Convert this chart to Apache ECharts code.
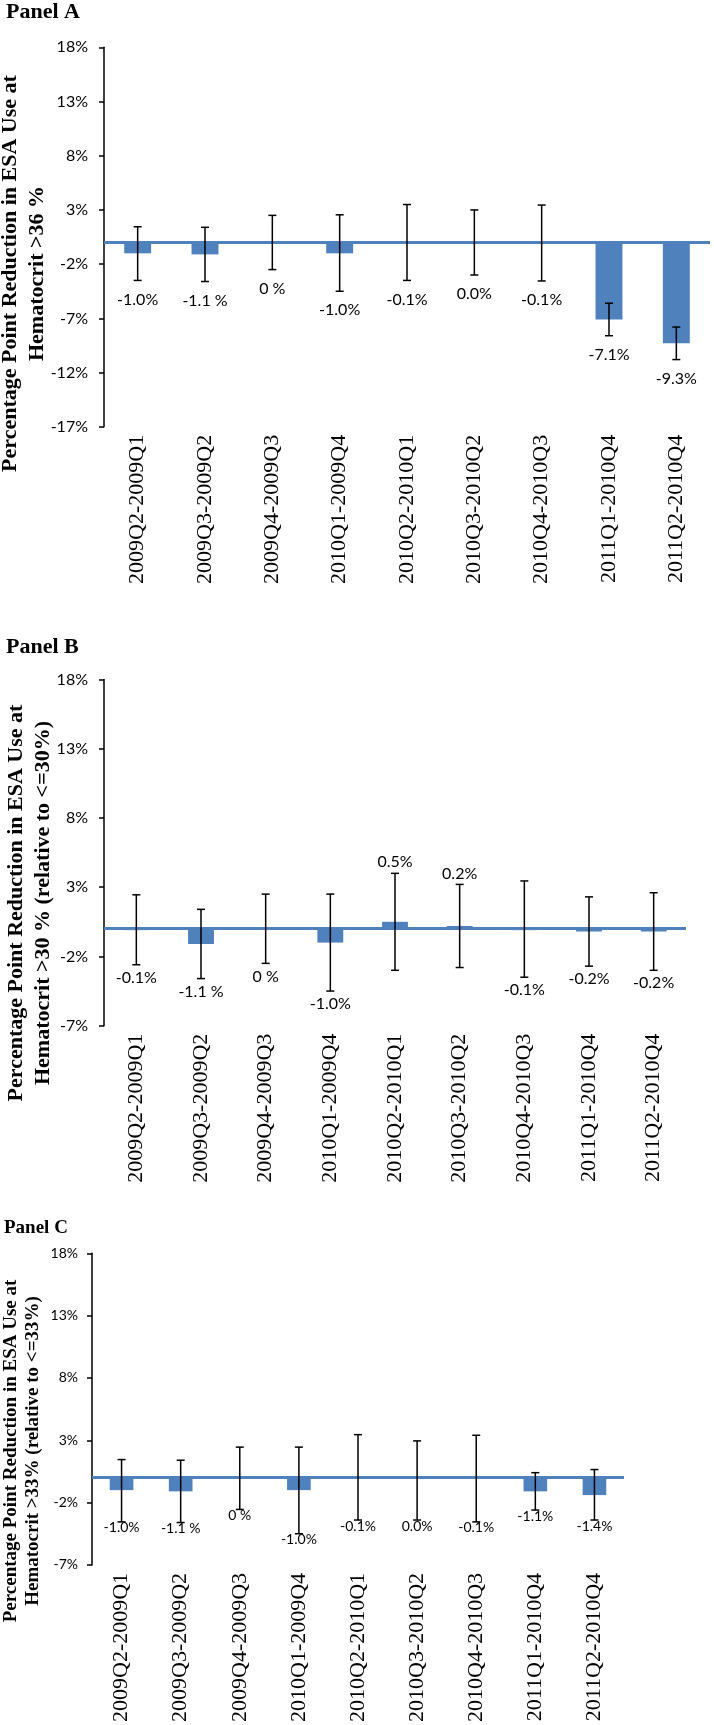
<!DOCTYPE html>
<html>
<head>
<meta charset="utf-8">
<script src="https://cdn.jsdelivr.net/npm/echarts@6/dist/echarts.min.js"></script>
<style>
html,body{margin:0;padding:0;background:#fff;}
#chart{width:714px;height:1725px;}
</style>
</head>
<body>
<div id="chart"></div>
<script>
// ---- data ----
const categories = ['2009Q2-2009Q1','2009Q3-2009Q2','2009Q4-2009Q3','2010Q1-2009Q4','2010Q2-2010Q1','2010Q3-2010Q2','2010Q4-2010Q3','2011Q1-2010Q4','2011Q2-2010Q4'];

const valuesA = [-1.0, -1.1, 0, -1.0, -0.1, 0.0, -0.1, -7.1, -9.3];
const lowA    = [-3.5, -3.6, -2.5, -4.5, -3.5, -3.0, -3.55, -8.6, -10.8];
const highA   = [1.45, 1.4, 2.5, 2.55, 3.5, 3.0, 3.45, -5.6, -7.8];
const labelsA = ['-1.0%','-1.1 %','0 %','-1.0%','-0.1%','0.0%','-0.1%','-7.1%','-9.3%'];

const valuesB = [-0.1, -1.1, 0, -1.0, 0.5, 0.2, -0.1, -0.2, -0.2];
const lowB    = [-2.6, -3.6, -2.5, -4.5, -3.0, -2.8, -3.5, -2.7, -3.0];
const highB   = [2.45, 1.4, 2.5, 2.5, 4.0, 3.2, 3.45, 2.3, 2.6];
const labelsB = ['-0.1%','-1.1 %','0 %','-1.0%','0.5%','0.2%','-0.1%','-0.2%','-0.2%'];

const valuesC = [-1.0, -1.1, 0, -1.0, -0.1, 0.0, -0.1, -1.1, -1.4];
const lowC    = [-3.55, -3.6, -2.55, -4.5, -3.4, -3.4, -3.55, -2.6, -3.4];
const highC   = [1.45, 1.4, 2.45, 2.45, 3.45, 2.95, 3.4, 0.4, 0.65];
const labelsC = ['-1.0%','-1.1 %','0 %','-1.0%','-0.1%','0.0%','-0.1%','-1.1%','-1.4%'];

const yMinA = -17, yMinB = -7, yMinC = -7, yMax = 18, yStep = 5;

const titleA = 'Panel A', titleB = 'Panel B', titleC = 'Panel C';
const yNameA = 'Percentage Point Reduction in ESA Use at\nHematocrit >36 %';
const yNameB = 'Percentage Point Reduction in ESA Use at\nHematocrit >30 % (relative to <=30%)';
const yNameC = 'Percentage Point Reduction in ESA Use at\nHematocrit >33% (relative to <=33%)';

// ---- styling ----
const BLUE = '#4F81BD';
const SANS = 'Lato';
const SERIF = 'Liberation Serif';

function xAxisFor(gi) {
  return {
    type: 'category', gridIndex: gi, data: categories,
    axisLine: {show: false, onZero: false},
    axisTick: {show: false},
    axisLabel: {rotate: 90, margin: 8, fontFamily: SERIF, fontSize: 22, color: '#000', interval: 0}
  };
}
function yAxisFor(gi, min, fs, margin) {
  return {
    type: 'value', gridIndex: gi, min: min, max: yMax, interval: yStep,
    axisLine: {show: true, lineStyle: {color: '#000', width: 1.5}},
    axisTick: {show: true, length: 5, lineStyle: {color: '#000', width: 1.5}},
    splitLine: {show: false},
    axisLabel: {formatter: '{value}%', fontFamily: SANS, fontSize: fs, color: '#000', margin: margin}
  };
}
function barSeries(i, values) {
  return {
    type: 'bar', xAxisIndex: i, yAxisIndex: i, data: values, barWidth: '40%',
    itemStyle: {color: BLUE}, z: 2, silent: true,
    markLine: {
      silent: true, symbol: ['none', 'none'], label: {show: false},
      lineStyle: {color: BLUE, width: 3, type: 'solid'},
      data: [{yAxis: 0}], z: 3
    }
  };
}
function errSeries(i, values, low, high, labels, fs, offBelow, offAbove) {
  return {
    type: 'custom', xAxisIndex: i, yAxisIndex: i, z: 5, silent: true,
    data: values.map((v, k) => [k, low[k], high[k], v]),
    renderItem: function (params, api) {
      const k = params.dataIndex;
      const x = api.coord([api.value(0), 0])[0];
      const yl = api.coord([api.value(0), api.value(1)])[1];
      const yh = api.coord([api.value(0), api.value(2)])[1];
      const cap = 4;
      const v = api.value(3);
      const ly = v > 0 ? yh - offAbove : yl + offBelow;
      const ls = {stroke: '#000', lineWidth: 1.5};
      return {
        type: 'group', children: [
          {type: 'line', shape: {x1: x, y1: yl, x2: x, y2: yh}, style: ls},
          {type: 'line', shape: {x1: x - cap, y1: yl, x2: x + cap, y2: yl}, style: ls},
          {type: 'line', shape: {x1: x - cap, y1: yh, x2: x + cap, y2: yh}, style: ls},
          {type: 'text', style: {text: labels[k], x: x, y: ly, align: 'center', verticalAlign: 'middle',
            fontFamily: SANS, fontSize: fs, fill: '#000'}}
        ]
      };
    }
  };
}
function titleText(txt, x, y, fs) {
  return {type: 'text', x: x, y: y, silent: true,
    style: {text: txt, align: 'left', verticalAlign: 'middle', fontFamily: SERIF, fontWeight: 'bold', fontSize: fs, fill: '#000'}};
}
function yNameText(txt, x, y, fs, lh) {
  return {type: 'text', x: x, y: y, rotation: Math.PI / 2, silent: true,
    style: {text: txt, align: 'center', verticalAlign: 'middle', fontFamily: SERIF, fontWeight: 'bold', fontSize: fs, lineHeight: lh, fill: '#000'}};
}

const chart = echarts.init(document.getElementById('chart'), null, {renderer: 'canvas'});
chart.setOption({
  backgroundColor: '#fff',
  animation: false,
  grid: [
    {left: 104, top: 47.3, width: 606, height: 379.5},
    {left: 104, top: 679.4, width: 582, height: 346.3},
    {left: 92, top: 1253.3, width: 532, height: 333.4}
  ],
  xAxis: [xAxisFor(0), xAxisFor(1), xAxisFor(2)],
  yAxis: [yAxisFor(0, yMinA, 16, 16), yAxisFor(1, yMinB, 16, 16), yAxisFor(2, yMinC, 14, 14)],
  series: [
    barSeries(0, valuesA), errSeries(0, valuesA, lowA, highA, labelsA, 16, 19, 11),
    barSeries(1, valuesB), errSeries(1, valuesB, lowB, highB, labelsB, 16, 13, 11),
    barSeries(2, valuesC), errSeries(2, valuesC, lowC, highC, labelsC, 14, 6, 10)
  ],
  graphic: [
    titleText(titleA, 6, 12.6, 22),
    titleText(titleB, 6, 647.5, 22),
    titleText(titleC, 4, 1228, 19),
    yNameText(yNameA, 24, 273.5, 22, 27),
    yNameText(yNameB, 30, 903, 22, 27),
    yNameText(yNameC, 22, 1451, 19, 22)
  ]
});
</script>
</body>
</html>
